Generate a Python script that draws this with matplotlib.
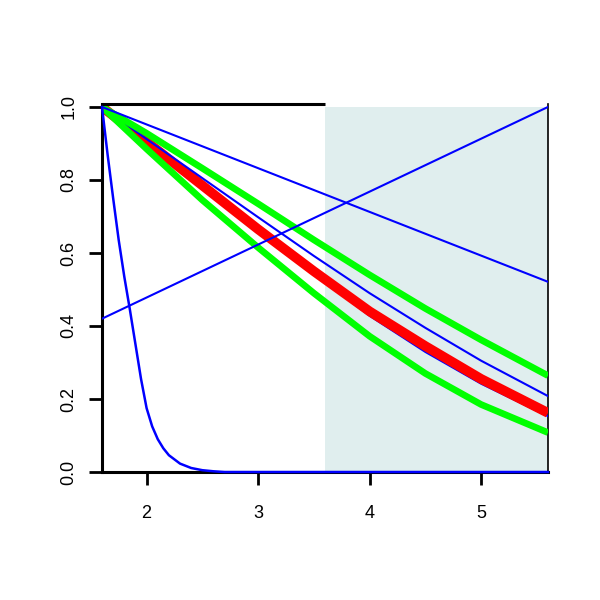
import numpy as np
import matplotlib
matplotlib.use("Agg")
import matplotlib.pyplot as plt

plt.rcParams['font.family'] = ['Liberation Sans', 'DejaVu Sans']

# shaded window
shade_x = [3.6, 5.6]

# straight lines (end points)
fall_x = [1.6, 5.6]
fall_y = [1.0, 0.521]
rise_x = [1.6, 5.6]
rise_y = [0.42, 1.0]

# steep blue decay
steep_x = [1.6, 1.65, 1.7, 1.75, 1.8, 1.85, 1.9, 1.95, 2.0, 2.05, 2.1, 2.15,
           2.2, 2.3, 2.4, 2.5, 2.6, 2.7, 5.6]
steep_y = [1.0, 0.87, 0.75, 0.635, 0.535, 0.445, 0.35, 0.255, 0.175, 0.125,
           0.09, 0.065, 0.046, 0.023, 0.011, 0.005, 0.002, 0.0, 0.0]

# smooth curves read at these x
cx = [1.6, 2.0, 2.5, 3.0, 3.5, 4.0, 4.5, 5.0, 5.6]
green_hi = [1.0, 0.928, 0.832, 0.735, 0.636, 0.540, 0.448, 0.362, 0.264]
blue_hi = [1.0, 0.912, 0.805, 0.698, 0.592, 0.490, 0.395, 0.305, 0.208]
red = [1.0, 0.905, 0.785, 0.665, 0.550, 0.440, 0.345, 0.255, 0.162]
blue_lo = [1.0, 0.903, 0.782, 0.661, 0.544, 0.428, 0.329, 0.242, 0.153]
green_lo = [1.0, 0.885, 0.745, 0.615, 0.490, 0.372, 0.270, 0.185, 0.108]

fig = plt.figure(figsize=(6, 6), dpi=100)
ax = fig.add_axes([0.17, 0.2133, 0.7433, 0.6133])

ax.axvspan(shade_x[0], shade_x[1], ymin=0, ymax=1.0 / 1.008, color='#E0EEEE', zorder=1, lw=0)

ax.plot(cx, blue_lo, color='#0000FF', lw=1.5, zorder=3)
ax.plot(cx, red, color='#FF0000', lw=7, zorder=4, solid_capstyle='butt')
ax.plot(cx, blue_hi, color='#0000FF', lw=1.5, zorder=5)
ax.plot(cx, green_hi, color='#00FF00', lw=4.8, zorder=6, solid_capstyle='butt')
ax.plot(cx, green_lo, color='#00FF00', lw=4.8, zorder=6, solid_capstyle='butt')
ax.plot(fall_x, fall_y, color='#0000FF', lw=1.5, zorder=7)
ax.plot(rise_x, rise_y, color='#0000FF', lw=1.5, zorder=7)
ax.plot(steep_x, steep_y, color='#0000FF', lw=1.8, zorder=8, clip_on=False)

ax.set_xlim(1.6, 5.6)
ax.set_ylim(0, 1.008)

# top border only outside the shaded window
ax.spines['top'].set_visible(False)
ax.plot([1.6, 3.6], [1.008, 1.008], color='black', lw=2.2, clip_on=False, zorder=9,
        solid_capstyle='butt')
ax.spines['left'].set_linewidth(2.2)
ax.spines['bottom'].set_linewidth(2.2)
ax.spines['right'].set_linewidth(1.2)

ax.set_xticks([2, 3, 4, 5])
ax.set_yticks([0.0, 0.2, 0.4, 0.6, 0.8, 1.0])
ax.set_yticklabels(['0.0', '0.2', '0.4', '0.6', '0.8', '1.0'], rotation=90, va='center')
ax.tick_params(axis='both', length=9.5, width=2, labelsize=13)
ax.tick_params(axis='x', pad=14)
ax.tick_params(axis='y', pad=8)

fig.savefig('out.png', dpi=100)
